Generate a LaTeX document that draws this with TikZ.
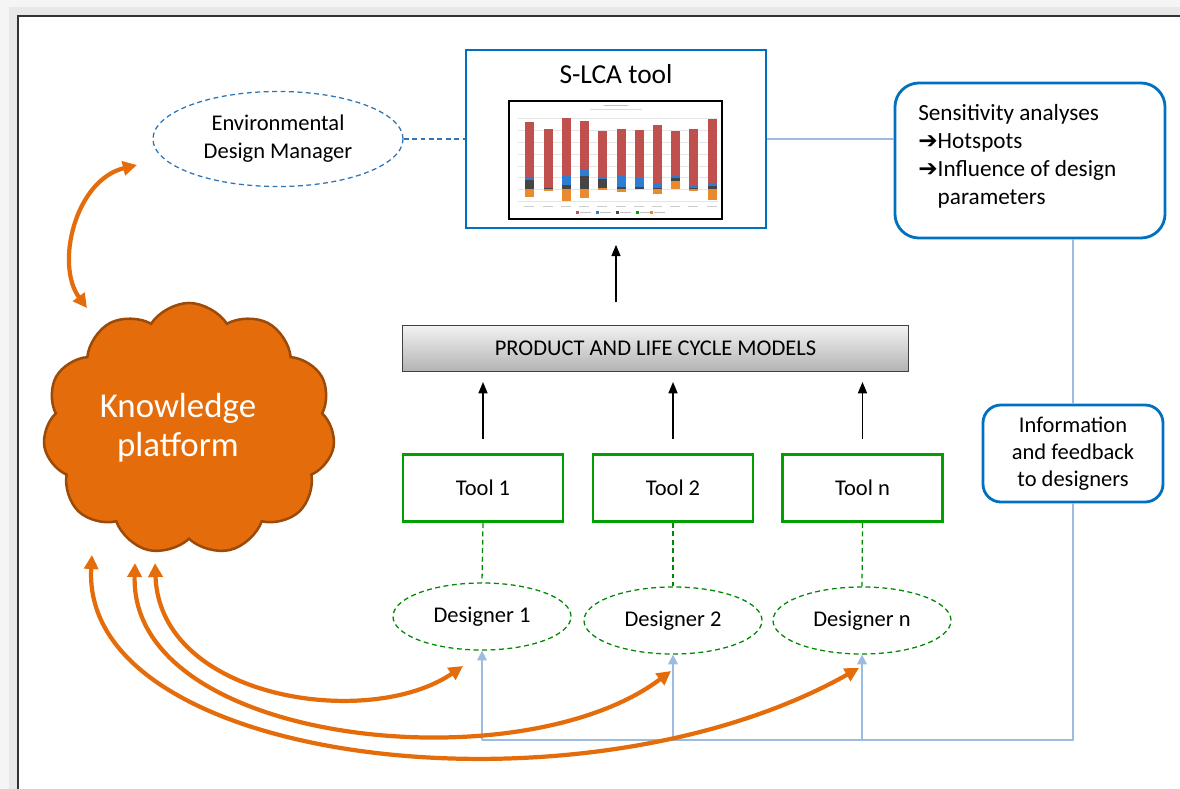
\documentclass[tikz,border=0pt]{standalone}
\usepackage{fontspec}
\setmainfont{Carlito}
\newfontfamily\symfont{DejaVu Sans}
\usetikzlibrary{positioning,shapes.geometric,shapes.symbols,arrows.meta}

\definecolor{azul}{HTML}{0070C0}
\definecolor{azulclaro}{HTML}{9DBBE0}
\definecolor{azulguion}{HTML}{2E75B6}
\definecolor{verde}{HTML}{00A000}
\definecolor{naranja}{HTML}{E46C0A}
\definecolor{naranjaosc}{HTML}{9C4A08}
\definecolor{rojobar}{HTML}{C0504D}
\definecolor{azulbar}{HTML}{2E7DD1}
\definecolor{grisbar}{HTML}{454545}
\definecolor{naranjabar}{HTML}{E98A2F}

\begin{document}
\begin{tikzpicture}[x=0.025cm, y=-0.025cm,
    every node/.style={font=\fontsize{16}{20}\selectfont},
    toolbox/.style={draw=verde, line width=2pt, minimum width=4cm,
      minimum height=1.675cm, inner sep=0pt},
    designer/.style={ellipse, draw=verde!85!black, dash pattern=on 3.5pt off 2.5pt,
      line width=0.9pt, minimum width=4.45cm, minimum height=1.675cm, inner sep=0pt},
    bluebox/.style={draw=azul, line width=2pt, inner sep=0pt},
    uparrow/.style={-{Triangle[length=8pt,width=6.5pt]}, line width=0.8pt},
    fbline/.style={azulclaro, line width=1pt},
    fbarrow/.style={fbline, -{Triangle[length=7pt,width=7pt]}},
    orangearrow/.style={naranja, line width=3pt,
      {Triangle[length=10pt,width=10pt]}-{Triangle[length=10pt,width=10pt]}}]
    \useasboundingbox (0,0) rectangle (1180,789);

    % Marco con sombra
    \fill[black!4]  (0,0) rectangle (1180,789);
    \fill[black!9] (9,7) rectangle (1180,789);
    \fill[white]    (18,16) rectangle (1180,789);
    \draw[black!80, line width=1pt] (18,789) -- (18,16) -- (1180,16);

    % Herramienta S-LCA con su grafico
    \node[bluebox, minimum width=7.5cm, minimum height=4.45cm] (slca) at (616,139) {};
    \node[font=\fontsize{19.5}{22}\selectfont] (slcatitle) at (616,74) {S-LCA tool};
    \draw[black!25, line width=0.6pt] (604,105) -- (628,105);
    \draw[black!15, line width=0.4pt] (590,109) -- (642,109);
    \foreach \g in {118,130,142,154,166,177,189,201}
      \draw[black!10, line width=0.3pt] (518,\g) -- (718,\g);
    \foreach \x/\t/\r/\b/\d/\o in {529/122/177/180/189/197, 548/129/187/188/189/191,
        566/118/176/185/189/201, 584/121/170/176/189/198, 602/131/177/179/188/190,
        621/129/176/187/189/192, 639/130/178/187/189/189, 657/125/183/188/189/194,
        675/131/176/178/181/189, 693/129/186/188/189/191, 712/119/183/186/189/200} {
      \fill[rojobar]    (\x-4.5,\t) rectangle (\x+4.5,\r);
      \fill[azulbar]    (\x-4.5,\r) rectangle (\x+4.5,\b);
      \fill[grisbar]    (\x-4.5,\b) rectangle (\x+4.5,\d);
      \fill[naranjabar] (\x-4.5,\d) rectangle (\x+4.5,\o);
      \draw[black!20, line width=0.3pt] (\x-5,206) -- (\x+5,206);
    }
    \foreach \c/\lx in {rojobar/576, azulbar/596, grisbar/616, verde/636, naranjabar/650} {
      \fill[\c] (\lx,211) rectangle +(2.5,2.5);
      \draw[black!25, line width=0.3pt] (\lx+4,212.3) -- +(11,0);
    }
    \draw[black, line width=1pt] (509,101) rectangle (722,219);

    % Gestor de diseno ambiental
    \node[ellipse, draw=azulguion, dash pattern=on 3.5pt off 2.5pt, line width=0.9pt,
      minimum width=6.25cm, minimum height=2.375cm, inner sep=0pt, align=center]
      (edm) at (278,139) {Environmental\\Design Manager};
    \draw[azulguion, dash pattern=on 3.5pt off 2.5pt, line width=0.9pt]
      (edm.east) -- (edm.east -| slca.west);

    % Analisis de sensibilidad
    \node[bluebox, rounded corners=0.6cm, minimum width=6.75cm, minimum height=3.875cm]
      (sens) at (1030,160.5) {};
    \node[anchor=north west, inner sep=0pt, align=left,
      font=\fontsize{16.5}{20}\selectfont] (senstext) at (918,104)
      {Sensitivity analyses\\
       {\symfont\bfseries ➔}Hotspots\\
       {\symfont\bfseries ➔}Influence of design\\
       \hphantom{\symfont\bfseries ➔}parameters};
    \draw[fbline] (slca.east) -- (slca.east -| sens.west);

    % Modelos de producto y ciclo de vida
    \node[draw=black!75, line width=1pt, top color=black!5, bottom color=black!30,
      minimum width=12.65cm, minimum height=1.15cm, inner sep=0pt]
      (prod) at (655.5,348.5) {PRODUCT AND LIFE CYCLE MODELS};
    \draw[uparrow, shorten <=16pt, shorten >=11pt] (slca |- prod.north) -- (slca.south);

    % Herramientas y disenadores
    \node[toolbox] (t1) at (483,488) {Tool 1};
    \node[toolbox] (t2) at (673,488) {Tool 2};
    \node[toolbox] (tn) at (862.5,488) {Tool n};
    \node[designer] (d1) at (482,616.5) {Designer 1};
    \node[designer] (d2) at (673,620.5) {Designer 2};
    \node[designer] (dn) at (862,620.5) {Designer n};
    \foreach \t/\d in {t1/d1, t2/d2, tn/dn} {
      \draw[uparrow, shorten <=10pt, shorten >=7pt] (\t.north) -- (\t.north |- prod.south);
      \draw[verde!85!black, dash pattern=on 3.5pt off 2.5pt, line width=0.9pt]
        (\t.south) -- (\d.north);
    }

    % Retroalimentacion a los disenadores
    \node[bluebox, rounded corners=0.45cm, minimum width=4.5cm, minimum height=2.425cm,
      align=center, font=\fontsize{16}{19.2}\selectfont] (info) at (1073,453.5)
      {Information\\and feedback\\to designers};
    \coordinate (fb) at (1073,740);
    \draw[fbline] (sens.south -| info) -- (info.north);
    \draw[fbline] (info.south) -- (fb) -- (fb -| d1);
    \foreach \d in {d1, d2, dn}
      \draw[fbarrow] (fb -| \d) -- (\d.south);

    % Plataforma de conocimiento
    \node[cloud, cloud puffs=11, cloud puff arc=115, fill=naranja, draw=naranjaosc,
      line width=1.8pt, minimum width=7.3cm, minimum height=6.3cm] (kp) at (189,429) {};
    \node[white, align=center, font=\fontsize{24.8}{27.7}\selectfont] (kplabel)
      at (178,428) {Knowledge\\platform};

    % Flechas naranjas
    \coordinate (edmtip) at (137,165);
    \coordinate (kptop)  at (87,308);
    \coordinate (kpb1) at (155,563);
    \coordinate (kpb2) at (135,563);
    \coordinate (kpb3) at (92,555);
    \coordinate (d1tip) at (463,666);
    \coordinate (d2tip) at (671,671);
    \coordinate (dntip) at (859,668);
    \draw[orangearrow] (edmtip) .. controls (75,180) and (55,265) .. (kptop);
    \draw[orangearrow] (kpb1) .. controls (160,700) and (370,730) .. (d1tip);
    \draw[orangearrow] (kpb2) .. controls (130,745) and (520,785) .. (d2tip);
    \draw[orangearrow] (kpb3) .. controls (80,765) and (580,825) .. (dntip);
\end{tikzpicture}
\end{document}
